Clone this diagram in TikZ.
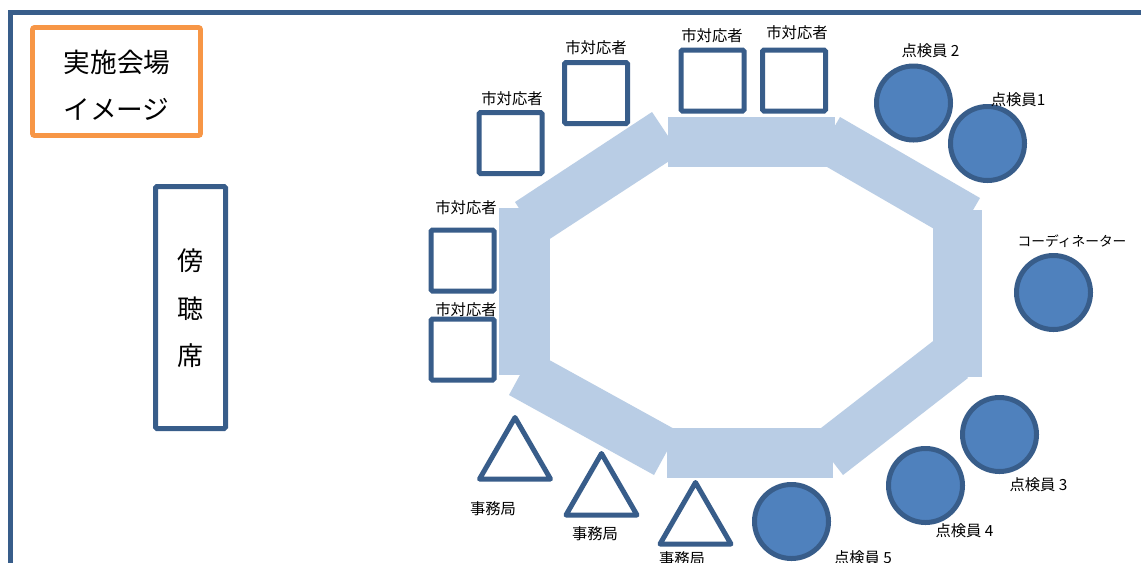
\documentclass[tikz,border=0pt]{standalone}
\usepackage{fontspec}
\setmainfont{Noto Sans CJK JP}
\usetikzlibrary{shapes.geometric}
\definecolor{dkblue}{HTML}{385D8A}
\definecolor{mdblue}{HTML}{4F81BD}
\definecolor{band}{HTML}{B9CDE5}
\definecolor{orng}{HTML}{F79646}
\tikzset{
  frame/.style={draw=dkblue,line width=3.4pt},
  bandfill/.style={fill=band},
  sq/.style={draw=dkblue,line width=3.75pt,fill=white,rectangle,rounded corners=1pt,inner sep=0pt,minimum width=47.25pt,minimum height=45.75pt},
  person/.style={draw=dkblue,line width=3.75pt,fill=mdblue,circle,inner sep=0pt,minimum size=55.5pt},
  tri/.style={draw=dkblue,line width=3.75pt,fill=white,regular polygon,regular polygon sides=3,inner sep=0pt,minimum size=61.5pt,line join=round},
  lbl/.style={inner sep=0pt,font=\fontsize{11.5pt}{13pt}\selectfont},
  big/.style={inner sep=0pt,font=\fontsize{20pt}{24pt}\selectfont},
  titlebox/.style={draw=orng,line width=3.6pt,rounded corners=1.5pt,rectangle,inner sep=0pt,minimum width=126pt,minimum height=81pt},
  seatbox/.style={draw=dkblue,line width=3.75pt,rounded corners=1pt,rectangle,inner sep=0pt,minimum width=52.5pt,minimum height=181.5pt}
}
\begin{document}
\begin{tikzpicture}[x=0.75pt,y=-0.75pt]
\useasboundingbox (0,0) rectangle (1141,562);
\fill[white] (0,0) rectangle (1141,562);
% outer frame
\coordinate (fbl) at (10.5,565);
\coordinate (ftr) at (1145,12.5);
\draw[frame] (fbl) |- (ftr);
% title
\node[titlebox] (title) at (116.5,81.5) {};
\node[big] (t1) at (117,62.5) {実施会場};
\node[big] (t2) at (116.5,109) {イメージ};
% audience seats
\node[seatbox] (seat) at (190.5,307.5) {};
\node[big,font=\fontsize{19.5pt}{24pt}\selectfont] (s1) at (190.5,261) {傍};
\node[big,font=\fontsize{19.5pt}{24pt}\selectfont] (s2) at (190.5,308.5) {聴};
\node[big,font=\fontsize{19.5pt}{24pt}\selectfont] (s3) at (190.5,356) {席};
% octagon table bands
\fill[bandfill] (668,117) rectangle (835,167);
\fill[bandfill] (667,428) rectangle (833,478);
\fill[bandfill] (499,208) rectangle (550,375);
\fill[bandfill] (933,210) rectangle (982,377);
\fill[bandfill] (840,117) -- (980,198) -- (955,241) -- (815,160) -- cycle;
\fill[bandfill] (968,378) -- (843,475) -- (812,435) -- (937,338) -- cycle;
\fill[bandfill] (515,202) -- (652,112) -- (680,154) -- (542,244) -- cycle;
\fill[bandfill] (509,395) -- (654,475) -- (678,431) -- (533,351) -- cycle;
% city staff labels and squares
\node[lbl] (c1l) at (512,99) {市対応者};
\node[sq] (c1) at (510.5,143) {};
\node[lbl] (c2l) at (596,48) {市対応者};
\node[sq] (c2) at (596,93) {};
\node[lbl] (c3l) at (712,36) {市対応者};
\node[sq] (c3) at (712.5,80.5) {};
\node[lbl] (c4l) at (797,33) {市対応者};
\node[sq] (c4) at (794,80.5) {};
\node[lbl] (c5l) at (466,208) {市対応者};
\node[sq] (c5) at (462.5,260.5) {};
\node[lbl] (c6l) at (466,310) {市対応者};
\node[sq] (c6) at (462.5,349.5) {};
% inspectors
\node[person] (p2) at (913.5,103) {};
\node[lbl] (p2l) at (930.5,51) {点検員 2};
\node[person] (p1) at (987.5,143.5) {};
\node[lbl] (p1l) at (1018,99.5) {点検員1};
\node[person] (co) at (1053.5,292.5) {};
\node[lbl,font=\fontsize{10.3pt}{12pt}\selectfont] (col) at (1072,241) {コーディネーター};
\node[person] (p3) at (999.5,434.5) {};
\node[lbl] (p3l) at (1038.5,484.5) {点検員 3};
\node[person] (p4) at (925.5,485.5) {};
\node[lbl] (p4l) at (964.5,530.5) {点検員 4};
\node[person] (p5) at (791.5,521.5) {};
\node[lbl] (p5l) at (863,558) {点検員 5};
% secretariat
\node[tri] (j1) at (515,458.5) {};
\node[lbl] (j1l) at (493,508.5) {事務局};
\node[tri] (j2) at (601.5,494.5) {};
\node[lbl] (j2l) at (595,534) {事務局};
\node[tri] (j3) at (695.5,523.5) {};
\node[lbl] (j3l) at (682,559) {事務局};
\end{tikzpicture}
\end{document}
